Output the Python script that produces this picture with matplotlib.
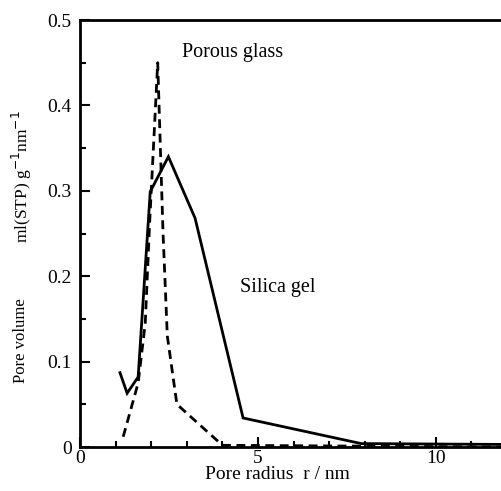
import matplotlib
matplotlib.use("Agg")
import matplotlib.pyplot as plt
from matplotlib.ticker import MultipleLocator, FuncFormatter

plt.rcParams['font.family'] = ['Liberation Serif', 'DejaVu Serif']

# Silica gel (solid)
silica_r = [1.12, 1.32, 1.63, 1.97, 2.48, 3.23, 4.58, 7.9, 12.0]
silica_v = [0.087, 0.063, 0.082, 0.299, 0.340, 0.268, 0.034, 0.004, 0.003]

# Porous glass (dashed)
glass_r = [1.21, 1.63, 1.83, 1.95, 2.18, 2.33, 2.45, 2.72, 4.0, 12.0]
glass_v = [0.012, 0.075, 0.145, 0.26, 0.450, 0.25, 0.13, 0.050, 0.002, 0.0]

labels = {"Porous glass": (2.87, 0.462), "Silica gel": (4.5, 0.187)}

fig = plt.figure(figsize=(5.01, 4.91), dpi=100)
ax = fig.add_axes([0.16, 0.0896, 0.84, 0.8696])

ax.plot(silica_r, silica_v, color='black', lw=2, solid_joinstyle='miter')
ax.plot(glass_r, glass_v, color='black', lw=2, linestyle=(0, (3.2, 2.0)))

for txt, (x, y) in labels.items():
    ax.text(x, y, txt, fontsize=14.5, va='center', ha='left')

ax.set_xlim(0, 11.83)
ax.set_ylim(0, 0.5)
ax.xaxis.set_major_locator(MultipleLocator(5))
ax.xaxis.set_minor_locator(MultipleLocator(1))
ax.yaxis.set_major_locator(MultipleLocator(0.1))
ax.yaxis.set_minor_locator(MultipleLocator(0.05))
ax.yaxis.set_major_formatter(FuncFormatter(lambda v, p: "0" if abs(v) < 1e-9 else f"{v:.1f}"))
ax.tick_params(which='both', direction='in', labelsize=14, width=1.5)
ax.tick_params(which='major', length=7)
ax.tick_params(which='minor', length=4)
ax.tick_params(axis='x', pad=2)
ax.tick_params(axis='y', pad=6)
for s in ['left', 'bottom', 'top']:
    ax.spines[s].set_linewidth(2)
ax.spines['right'].set_visible(False)

ax.set_xlabel("Pore radius  r / nm", fontsize=14, labelpad=0)
ax.xaxis.set_label_coords((277 - 80) / (501 * 0.84), -0.045)
fig.text(21 / 501, 1 - 341 / 491, "Pore volume", rotation=90, fontsize=12,
         ha='center', va='center')
fig.text(22 / 501, 1 - 177 / 491, "ml(STP) g$^{-1}$nm$^{-1}$", rotation=90,
         fontsize=12.5, ha='center', va='center')

fig.savefig("out.png", dpi=100)
